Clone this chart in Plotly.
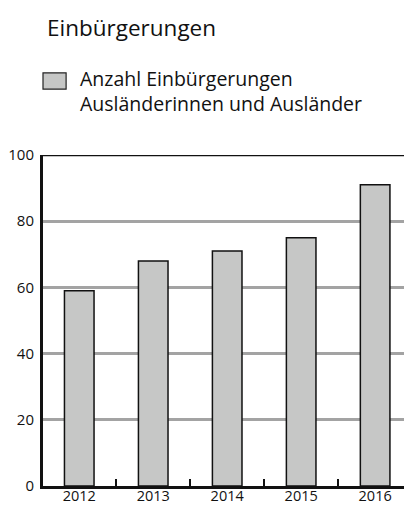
import plotly.graph_objects as go

# ── data ─────────────────────────────────────
years = ["2012", "2013", "2014", "2015", "2016"]
einbuergerungen = [59, 68, 71, 75, 91]
y_ticks = [0, 20, 40, 60, 80, 100]

TITLE = "Einbürgerungen"
LEGEND_TEXT = "Anzahl Einbürgerungen<br>Ausländerinnen und Ausländer"

FONT = "Open Sans, Noto Sans, sans-serif"
BAR_FILL = "#c6c7c6"
GRID = "#a3a3a3"

fig = go.Figure()

fig.add_trace(go.Bar(
    x=years,
    y=einbuergerungen,
    width=0.4,
    marker=dict(color=BAR_FILL, line=dict(color="#111111", width=1.5)),
    showlegend=False,
))

# top frame line at 100
fig.add_shape(type="line", xref="paper", yref="y", x0=0, x1=1, y0=100, y1=100,
              line=dict(color="#111111", width=2.5))

# legend swatch + text (drawn by hand to match the layout)
fig.add_shape(type="rect", xref="paper", yref="paper",
              x0=0.0, x1=0.064, y0=1.199, y1=1.248,
              fillcolor=BAR_FILL, line=dict(color="#222222", width=1.2))
fig.add_annotation(
    xref="paper", yref="paper", x=0.097, y=1.192,
    text=LEGEND_TEXT, showarrow=False, xanchor="left", yanchor="middle",
    align="left", font=dict(family=FONT, size=19.5, color="#111111"),
)

fig.update_layout(
    width=404, height=505,
    margin=dict(l=43, r=0, t=155, b=19),
    paper_bgcolor="white", plot_bgcolor="white",
    font=dict(family=FONT, color="#111111"),
    title=dict(text=TITLE, x=47 / 404, xanchor="left", y=1 - 28 / 505, yanchor="middle",
               font=dict(family=FONT, size=22.5, color="#111111")),
    xaxis=dict(
        type="category",
        range=[-0.49, 4.39],
        automargin=False,
        showline=True, linecolor="#111111", linewidth=3,
        tickson="boundaries", ticks="inside", ticklen=7, tickwidth=2, tickcolor="#111111",
        tickfont=dict(size=14.5, color="#111111"),
        ticklabelstandoff=-5,
        showgrid=False, fixedrange=True,
    ),
    yaxis=dict(
        range=[0, 100],
        tickvals=y_ticks,
        automargin=False,
        showline=True, linecolor="#111111", linewidth=3,
        ticks="", ticklabelstandoff=3,
        tickfont=dict(size=15, color="#111111"),
        showgrid=True, gridcolor=GRID, gridwidth=2.5,
        zeroline=False, fixedrange=True,
    ),
)

fig.write_html(
    "out.html",
    config={"displayModeBar": False},
    post_script="document.body.style.margin='0';document.body.style.overflow='hidden';",
)
